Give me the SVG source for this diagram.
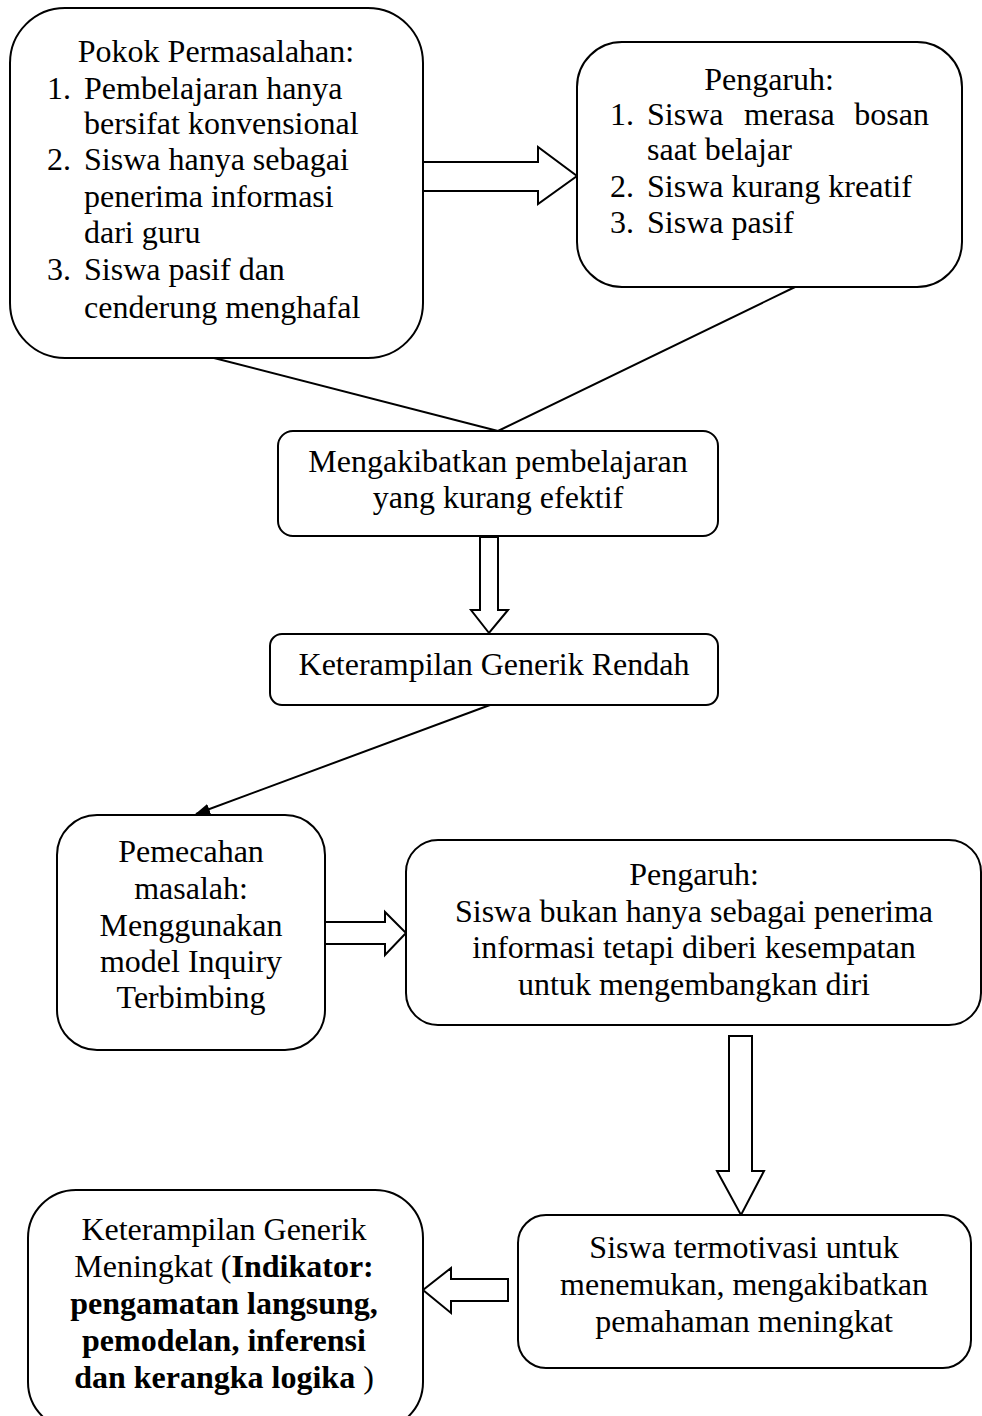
<svg xmlns="http://www.w3.org/2000/svg" width="982" height="1416" viewBox="0 0 982 1416">
<style>
.box{fill:#fff;stroke:#000;stroke-width:2}
.t{font-family:"Liberation Serif","Times New Roman",serif;font-size:32px;fill:#000}
.c{text-anchor:middle}
.b{font-weight:bold}
.ln{fill:none;stroke:#000;stroke-width:2}
.blk{fill:#fff;stroke:#000;stroke-width:2;stroke-linejoin:miter}
</style>
<defs>
<marker id="ah" markerWidth="15" markerHeight="11" refX="14" refY="5.5" orient="auto" markerUnits="userSpaceOnUse">
<path d="M0,0 L15,5.5 L0,11 Z" fill="#000"/>
</marker>
</defs>
<rect width="982" height="1416" fill="#fff"/>
<g id="connectors">
<line class="ln" x1="214" y1="358" x2="498" y2="431"/>
<line class="ln" x1="795" y1="287" x2="498" y2="431"/>
<line class="ln" x1="490" y1="705" x2="196" y2="814" marker-end="url(#ah)"/>
<path class="blk" d="M423,162 L538,162 L538,147 L577,176 L538,204 L538,191 L423,191 Z"/>
<path class="blk" d="M480,537 L498,537 L498,610 L508,610 L489,633 L471,610 L480,610 Z"/>
<path class="blk" d="M325,922 L385,922 L385,912 L406,933 L385,955 L385,944 L325,944 Z"/>
<path class="blk" d="M729,1036 L752,1036 L752,1171 L764,1171 L741,1215 L717,1171 L729,1171 Z"/>
<path class="blk" d="M508,1279 L451,1279 L451,1268 L423,1290 L451,1313 L451,1301 L508,1301 Z"/>
</g>
<g id="node-pokok">
<rect class="box" x="10" y="8" width="413" height="350" rx="55" ry="55"/>
<text class="t c" x="216" y="62">Pokok Permasalahan:</text>
<text class="t" x="47" y="99">1.</text>
<text class="t" x="84" y="99">Pembelajaran hanya</text>
<text class="t" x="84" y="134">bersifat konvensional</text>
<text class="t" x="47" y="170">2.</text>
<text class="t" x="84" y="170">Siswa hanya sebagai</text>
<text class="t" x="84" y="207">penerima informasi</text>
<text class="t" x="84" y="243">dari guru</text>
<text class="t" x="47" y="280">3.</text>
<text class="t" x="84" y="280">Siswa pasif dan</text>
<text class="t" x="84" y="318">cenderung menghafal</text>
</g>
<g id="node-pengaruh1">
<rect class="box" x="577" y="42" width="385" height="245" rx="45" ry="45"/>
<text class="t c" x="769" y="90">Pengaruh:</text>
<text class="t" x="610" y="125">1.</text>
<text class="t" x="647" y="125">Siswa</text>
<text class="t" x="744" y="125">merasa</text>
<text class="t" x="929" y="125" text-anchor="end">bosan</text>
<text class="t" x="647" y="160">saat belajar</text>
<text class="t" x="610" y="197">2.</text>
<text class="t" x="647" y="197">Siswa kurang kreatif</text>
<text class="t" x="610" y="233">3.</text>
<text class="t" x="647" y="233">Siswa pasif</text>
</g>
<g id="node-mengakibatkan">
<rect class="box" x="278" y="431" width="440" height="105" rx="15" ry="15"/>
<text class="t c" x="498" y="472">Mengakibatkan pembelajaran</text>
<text class="t c" x="498" y="508">yang kurang efektif</text>
</g>
<g id="node-rendah">
<rect class="box" x="270" y="634" width="448" height="71" rx="12" ry="12"/>
<text class="t c" x="494" y="675">Keterampilan Generik Rendah</text>
</g>
<g id="node-pemecahan">
<rect class="box" x="57" y="815" width="268" height="235" rx="40" ry="40"/>
<text class="t c" x="191" y="862">Pemecahan</text>
<text class="t c" x="191" y="899">masalah:</text>
<text class="t c" x="191" y="936">Menggunakan</text>
<text class="t c" x="191" y="972">model Inquiry</text>
<text class="t c" x="191" y="1008">Terbimbing</text>
</g>
<g id="node-pengaruh2">
<rect class="box" x="406" y="840" width="575" height="185" rx="32" ry="32"/>
<text class="t c" x="694" y="885">Pengaruh:</text>
<text class="t c" x="694" y="922">Siswa bukan hanya sebagai penerima</text>
<text class="t c" x="694" y="958">informasi tetapi diberi kesempatan</text>
<text class="t c" x="694" y="995">untuk mengembangkan diri</text>
</g>
<g id="node-termotivasi">
<rect class="box" x="518" y="1215" width="453" height="153" rx="28" ry="28"/>
<text class="t c" x="744" y="1258">Siswa termotivasi untuk</text>
<text class="t c" x="744" y="1295">menemukan, mengakibatkan</text>
<text class="t c" x="744" y="1332">pemahaman meningkat</text>
</g>
<g id="node-meningkat">
<rect class="box" x="28" y="1190" width="395" height="240" rx="48" ry="48"/>
<text class="t c" x="224" y="1240">Keterampilan Generik</text>
<text class="t c" x="224" y="1277">Meningkat (<tspan class="b">Indikator:</tspan></text>
<text class="t c b" x="224" y="1314">pengamatan langsung,</text>
<text class="t c b" x="224" y="1351">pemodelan, inferensi</text>
<text class="t c" x="224" y="1388"><tspan class="b">dan kerangka logika</tspan> )</text>
</g>
</svg>
